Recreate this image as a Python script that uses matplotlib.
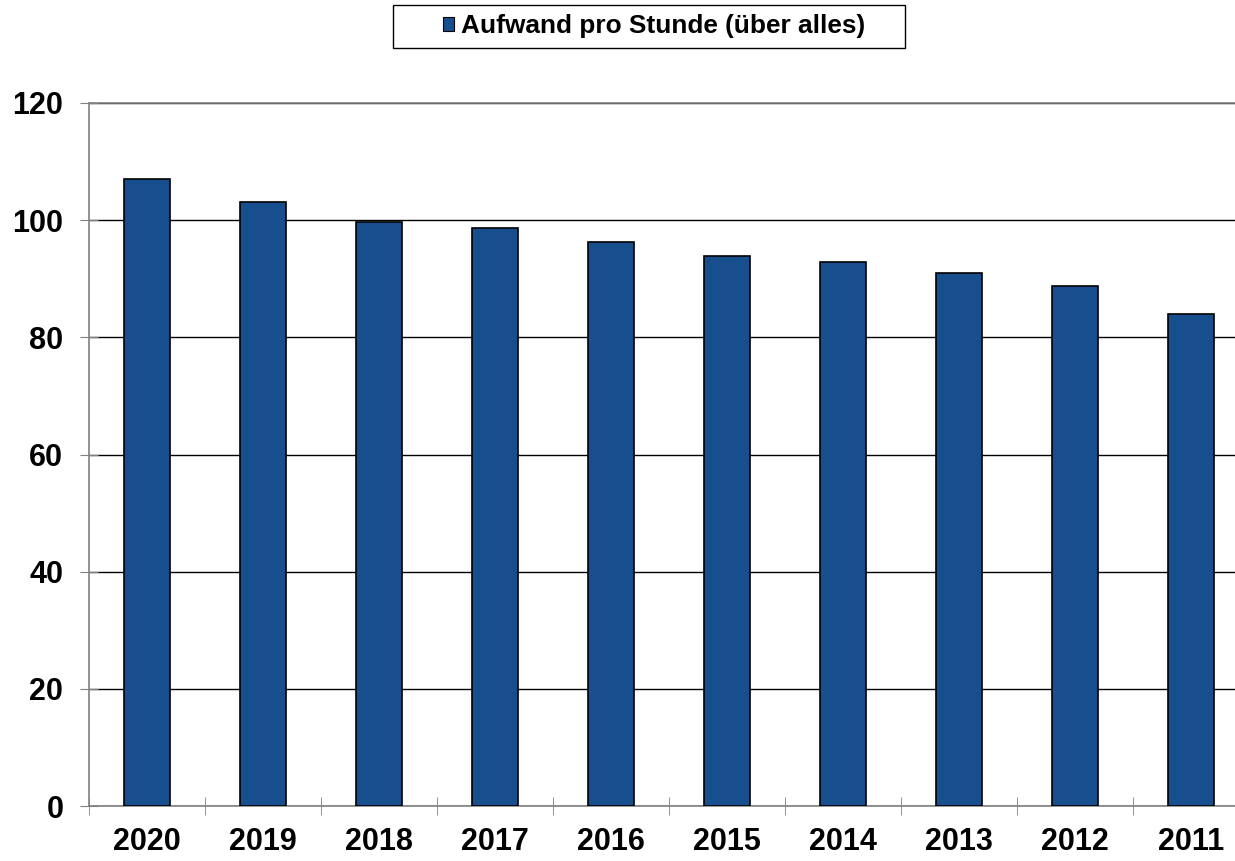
import matplotlib.pyplot as plt
from matplotlib.patches import Patch, Rectangle
import numpy as np

plt.rcParams['font.family'] = ['Liberation Sans', 'DejaVu Sans']

# data
years = ['2020', '2019', '2018', '2017', '2016', '2015', '2014', '2013', '2012', '2011']
aufwand = [107.1, 103.1, 99.7, 98.6, 96.3, 93.8, 92.9, 91.0, 88.8, 84.0]
series_name = 'Aufwand pro Stunde (über alles)'

bar_color = '#174F8E'
axis_gray = '#808080'

W, H = 1235, 861
fig = plt.figure(figsize=(W / 100, H / 100), dpi=100)
ax = fig.add_axes([89 / W, 55 / H, 1160 / W, 703 / H])

x = np.arange(len(years))
ax.bar(x, aufwand, width=0.405, color=bar_color, edgecolor='black', linewidth=1.2, zorder=3)

ax.set_xlim(-0.5, len(years) - 0.5)
ax.set_ylim(0, 120)
ax.set_yticks(range(0, 121, 20))
ax.set_xticks(x)
ax.set_xticklabels(years)
ax.set_xticks(np.arange(-0.5, len(years), 1.0), minor=True)

ax.yaxis.grid(True, color='black', linewidth=1.0, zorder=0)
ax.set_axisbelow(True)

ax.spines['right'].set_visible(False)
for side in ['left', 'bottom', 'top']:
    ax.spines[side].set_color(axis_gray)
    ax.spines[side].set_linewidth(1.2)

ax.tick_params(axis='y', which='major', direction='inout', length=13, color=axis_gray,
               labelsize=22, pad=12)
ax.tick_params(axis='x', which='major', length=0, labelsize=22, pad=15)
ax.tick_params(axis='x', which='minor', direction='inout', length=13, color=axis_gray)
for lbl in ax.get_xticklabels() + ax.get_yticklabels():
    lbl.set_fontweight('bold')

# legend box drawn separately so its padding can match the original
fig.patches.append(Rectangle((393 / W, 1 - 48 / H), 512 / W, 43 / H, transform=fig.transFigure,
                             facecolor='white', edgecolor='black', linewidth=1.0, zorder=1))
handles = [Patch(facecolor=bar_color, edgecolor='black', linewidth=0.8)]
leg = fig.legend(handles, [series_name], loc='center', bbox_to_anchor=(654 / W, 1 - 26.5 / H),
                 frameon=False, handlelength=0.4, handleheight=0.42,
                 handletextpad=0.27, borderpad=0, borderaxespad=0,
                 prop={'weight': 'bold', 'size': 18.9})
leg.set_zorder(2)

fig.savefig('out.png', dpi=100)
